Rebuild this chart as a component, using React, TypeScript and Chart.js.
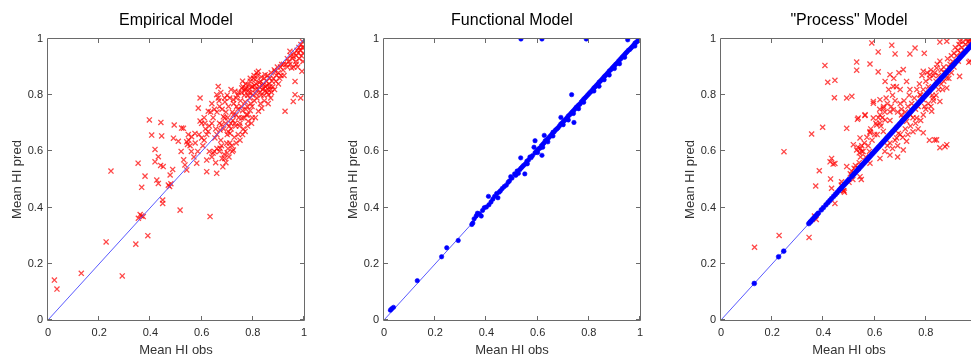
import React, { useEffect, useRef } from "react";
import { Chart, registerables } from "chart.js";

Chart.register(...registerables);

// Tick values shared by both axes of every panel
const axisTicks = [0, 0.2, 0.4, 0.6, 0.8, 1];

// 1:1 reference line
const identityLine: [number, number][] = [
  [0, 0],
  [1, 1],
];

// Empirical model: [observed, predicted] mean HI
const empiricalPoints: [number, number][] = [
  [0.025, 0.142], [0.035, 0.11], [0.13, 0.166], [0.227, 0.278], [0.246, 0.53], [0.29, 0.157],
  [0.343, 0.27], [0.39, 0.3], [0.353, 0.362], [0.36, 0.375], [0.366, 0.37], [0.372, 0.368],
  [0.352, 0.558], [0.366, 0.472], [0.379, 0.512], [0.396, 0.712], [0.405, 0.658], [0.441, 0.703],
  [0.444, 0.655], [0.418, 0.607], [0.431, 0.581], [0.418, 0.563], [0.45, 0.546], [0.44, 0.55],
  [0.425, 0.498], [0.431, 0.486], [0.448, 0.427], [0.448, 0.415], [0.47, 0.48], [0.477, 0.516],
  [0.475, 0.475], [0.48, 0.485], [0.487, 0.536], [0.493, 0.694], [0.49, 0.647], [0.516, 0.391],
  [0.633, 0.368],
  [0.509, 0.636], [0.522, 0.683], [0.529, 0.682], [0.535, 0.552], [0.542, 0.534], [0.542, 0.634],
  [0.548, 0.66], [0.545, 0.625], [0.55, 0.64], [0.555, 0.62], [0.561, 0.652], [0.574, 0.664],
  [0.581, 0.558], [0.585, 0.6], [0.587, 0.754], [0.594, 0.79], [0.594, 0.708], [0.6, 0.648],
  [0.605, 0.62], [0.613, 0.7], [0.62, 0.569], [0.62, 0.528], [0.626, 0.743], [0.626, 0.671],
  [0.63, 0.6], [0.635, 0.74], [0.64, 0.58], [0.645, 0.594], [0.652, 0.648], [0.655, 0.56],
  [0.659, 0.522], [0.659, 0.802], [0.665, 0.831], [0.668, 0.78], [0.672, 0.611], [0.672, 0.676],
  [0.678, 0.695], [0.68, 0.575], [0.683, 0.545], [0.685, 0.723], [0.688, 0.59], [0.691, 0.719],
  [0.691, 0.776], [0.695, 0.56], [0.698, 0.629], [0.7, 0.66], [0.703, 0.61], [0.704, 0.671],
  [0.707, 0.58], [0.711, 0.664], [0.714, 0.7], [0.718, 0.62], [0.72, 0.74], [0.724, 0.605],
  [0.724, 0.73], [0.724, 0.784], [0.728, 0.65], [0.73, 0.814], [0.733, 0.69], [0.737, 0.76],
  [0.74, 0.8], [0.743, 0.66], [0.745, 0.72], [0.75, 0.7], [0.752, 0.78], [0.757, 0.826],
  [0.757, 0.719], [0.76, 0.745], [0.763, 0.68], [0.767, 0.8], [0.77, 0.776], [0.77, 0.671],
  [0.772, 0.84], [0.775, 0.73], [0.778, 0.76], [0.782, 0.837], [0.782, 0.707], [0.785, 0.81],
  [0.788, 0.79], [0.79, 0.85], [0.792, 0.77], [0.795, 0.83], [0.798, 0.72], [0.8, 0.8],
  [0.803, 0.86], [0.806, 0.78], [0.809, 0.855], [0.81, 0.82], [0.813, 0.84], [0.816, 0.79],
  [0.818, 0.87], [0.822, 0.885], [0.822, 0.743], [0.825, 0.83], [0.828, 0.81], [0.83, 0.85],
  [0.833, 0.865], [0.835, 0.754], [0.838, 0.82], [0.84, 0.84], [0.843, 0.8], [0.845, 0.86],
  [0.848, 0.873], [0.85, 0.83], [0.853, 0.85], [0.856, 0.81], [0.858, 0.87], [0.861, 0.802],
  [0.863, 0.84], [0.866, 0.86], [0.87, 0.82], [0.872, 0.88], [0.875, 0.85], [0.878, 0.83],
  [0.88, 0.86], [0.884, 0.89], [0.887, 0.885], [0.89, 0.85], [0.893, 0.87], [0.896, 0.9],
  [0.9, 0.88], [0.905, 0.86], [0.908, 0.9], [0.913, 0.909], [0.918, 0.89], [0.922, 0.87],
  [0.926, 0.743], [0.93, 0.91], [0.935, 0.93], [0.94, 0.92], [0.945, 0.956], [0.948, 0.94],
  [0.952, 0.897], [0.955, 0.93], [0.958, 0.938], [0.958, 0.778], [0.962, 0.95], [0.965, 0.802],
  [0.965, 0.849], [0.968, 0.92], [0.97, 0.94], [0.973, 0.96], [0.975, 0.9], [0.977, 0.95],
  [0.98, 0.97], [0.982, 0.93], [0.985, 0.96], [0.987, 0.79], [0.988, 0.98], [0.99, 0.94],
  [0.993, 0.97], [0.995, 0.99], [0.997, 0.95], [1.0, 0.97], [0.996, 0.92], [0.992, 0.885],
  [0.755, 0.81], [0.762, 0.83], [0.768, 0.815], [0.775, 0.825], [0.78, 0.8], [0.787, 0.822],
  [0.793, 0.808], [0.8, 0.83], [0.807, 0.835], [0.812, 0.805], [0.82, 0.82], [0.826, 0.845],
  [0.832, 0.8], [0.837, 0.835], [0.842, 0.825], [0.848, 0.815], [0.855, 0.835], [0.86, 0.82],
  [0.867, 0.83], [0.873, 0.81],
  [0.686, 0.68], [0.694, 0.7], [0.702, 0.72], [0.708, 0.69], [0.715, 0.68], [0.722, 0.71],
  [0.73, 0.7], [0.735, 0.73], [0.742, 0.75], [0.748, 0.69], [0.755, 0.76], [0.765, 0.72],
  [0.773, 0.75], [0.78, 0.73], [0.79, 0.745], [0.797, 0.76],
  [0.65, 0.6], [0.66, 0.61], [0.67, 0.6], [0.678, 0.62], [0.69, 0.575], [0.7, 0.595],
  [0.71, 0.63], [0.72, 0.6],
  [0.6, 0.7], [0.61, 0.72], [0.615, 0.68], [0.64, 0.77], [0.645, 0.72], [0.65, 0.75],
  [0.66, 0.74], [0.665, 0.79], [0.67, 0.76], [0.675, 0.81], [0.68, 0.75], [0.69, 0.79],
  [0.7, 0.8], [0.71, 0.79], [0.715, 0.82],
  [0.52, 0.6], [0.53, 0.57], [0.56, 0.6], [0.57, 0.58], [0.575, 0.63], [0.59, 0.66],
  [0.61, 0.64], [0.62, 0.66], [0.63, 0.69], [0.64, 0.7], [0.655, 0.68], [0.66, 0.66],
  [0.67, 0.7], [0.675, 0.64], [0.695, 0.74], [0.705, 0.76], [0.725, 0.77], [0.735, 0.79],
  [0.745, 0.81], [0.76, 0.85], [0.77, 0.82], [0.79, 0.86], [0.805, 0.87], [0.815, 0.88],
  [0.83, 0.77], [0.845, 0.78], [0.86, 0.77], [0.87, 0.79], [0.885, 0.82], [0.9, 0.84],
  [0.91, 0.87], [0.92, 0.91], [0.935, 0.9], [0.945, 0.91], [0.96, 0.9], [0.97, 0.91],
  [0.78, 0.69], [0.795, 0.7], [0.76, 0.66], [0.735, 0.63], [0.75, 0.64], [0.81, 0.72],
];

// Functional model: [observed, predicted] mean HI
const functionalPoints: [number, number][] = [
  [0.025, 0.035], [0.03, 0.04], [0.037, 0.045], [0.13, 0.14], [0.225, 0.225], [0.245, 0.257],
  [0.29, 0.283], [0.343, 0.34], [0.347, 0.345], [0.352, 0.36], [0.36, 0.37], [0.365, 0.38],
  [0.372, 0.378], [0.38, 0.37], [0.385, 0.39], [0.392, 0.4], [0.4, 0.402], [0.408, 0.44],
  [0.41, 0.41], [0.418, 0.42], [0.425, 0.43], [0.432, 0.44], [0.44, 0.45], [0.445, 0.435],
  [0.45, 0.455], [0.455, 0.46], [0.462, 0.468], [0.47, 0.475], [0.478, 0.48], [0.485, 0.49],
  [0.49, 0.495], [0.495, 0.51], [0.5, 0.505],
  [0.51, 0.52], [0.515, 0.515], [0.52, 0.53], [0.525, 0.522], [0.53, 0.535], [0.534, 0.577],
  [0.535, 0.54], [0.54, 0.545], [0.545, 0.55], [0.55, 0.52], [0.552, 0.555], [0.558, 0.565],
  [0.565, 0.57], [0.57, 0.58], [0.575, 0.578], [0.58, 0.585], [0.586, 0.615], [0.59, 0.638],
  [0.59, 0.595], [0.595, 0.6], [0.6, 0.605], [0.605, 0.61], [0.61, 0.612], [0.617, 0.586],
  [0.615, 0.62], [0.62, 0.625], [0.626, 0.657], [0.625, 0.63], [0.63, 0.638], [0.635, 0.64],
  [0.64, 0.645], [0.645, 0.65], [0.65, 0.655], [0.655, 0.66], [0.66, 0.668], [0.665, 0.67],
  [0.67, 0.676], [0.675, 0.68], [0.68, 0.684], [0.685, 0.69], [0.691, 0.721], [0.69, 0.697],
  [0.695, 0.7], [0.7, 0.706], [0.705, 0.71], [0.71, 0.714], [0.715, 0.72], [0.72, 0.726],
  [0.725, 0.73], [0.73, 0.735], [0.733, 0.802], [0.735, 0.74], [0.742, 0.703], [0.74, 0.745],
  [0.745, 0.75], [0.75, 0.756], [0.755, 0.76], [0.76, 0.765], [0.765, 0.768], [0.77, 0.775],
  [0.775, 0.78], [0.78, 0.786], [0.785, 0.79], [0.79, 0.795], [0.795, 0.8], [0.8, 0.805],
  [0.805, 0.81], [0.81, 0.814], [0.815, 0.82], [0.82, 0.826], [0.825, 0.83], [0.83, 0.835],
  [0.835, 0.84], [0.84, 0.846], [0.845, 0.85], [0.85, 0.855], [0.855, 0.86], [0.86, 0.866],
  [0.865, 0.87], [0.87, 0.875], [0.875, 0.88], [0.88, 0.886], [0.885, 0.89], [0.89, 0.895],
  [0.895, 0.9], [0.9, 0.905], [0.905, 0.91], [0.91, 0.914], [0.915, 0.92], [0.92, 0.925],
  [0.925, 0.93], [0.93, 0.935], [0.935, 0.94], [0.94, 0.945], [0.945, 0.95], [0.95, 0.955],
  [0.952, 0.997], [0.955, 0.96], [0.96, 0.963], [0.965, 0.968], [0.97, 0.973], [0.975, 0.978],
  [0.98, 0.985], [0.985, 0.988], [0.99, 0.992], [0.995, 0.996], [1.0, 1.0],
  [0.535, 1.0], [0.617, 1.0], [0.79, 1.0],
  [0.62, 0.615], [0.66, 0.655], [0.7, 0.695], [0.74, 0.735], [0.78, 0.775], [0.82, 0.815],
  [0.86, 0.855], [0.9, 0.895], [0.94, 0.935], [0.98, 0.975], [0.72, 0.712], [0.76, 0.752],
  [0.84, 0.832], [0.88, 0.872], [0.92, 0.912], [0.56, 0.556], [0.6, 0.596], [0.64, 0.634],
];

// "Process" model, outcome A (red crosses): [observed, predicted]
const processScatterPoints: [number, number][] = [
  [0.131, 0.259], [0.227, 0.301], [0.246, 0.599], [0.344, 0.294], [0.354, 0.662], [0.365, 0.37],
  [0.37, 0.477], [0.372, 0.358], [0.384, 0.531], [0.397, 0.686], [0.406, 0.906], [0.417, 0.846],
  [0.445, 0.853], [0.443, 0.791], [0.426, 0.563], [0.432, 0.575], [0.438, 0.555], [0.445, 0.557],
  [0.428, 0.502], [0.432, 0.469], [0.445, 0.415], [0.471, 0.492], [0.478, 0.46], [0.482, 0.455],
  [0.491, 0.546], [0.491, 0.682], [0.491, 0.79], [0.511, 0.796], [0.53, 0.918], [0.53, 0.889],
  [0.517, 0.624], [0.53, 0.605], [0.535, 0.615], [0.54, 0.595], [0.545, 0.61], [0.55, 0.6],
  [0.533, 0.714], [0.536, 0.719], [0.536, 0.54], [0.543, 0.51], [0.548, 0.5], [0.543, 0.648],
  [0.562, 0.728], [0.563, 0.73], [0.582, 0.67], [0.582, 0.666], [0.582, 0.558], [0.589, 0.986],
  [0.582, 0.911], [0.595, 0.771], [0.595, 0.778], [0.595, 0.719], [0.608, 0.694], [0.614, 0.954],
  [0.614, 0.883], [0.621, 0.784], [0.621, 0.73], [0.621, 0.701], [0.621, 0.575], [0.634, 0.754],
  [0.634, 0.671], [0.641, 0.849], [0.641, 0.712], [0.66, 0.873], [0.66, 0.741], [0.66, 0.587],
  [0.667, 0.978], [0.673, 0.831], [0.673, 0.748], [0.68, 0.947], [0.686, 0.648], [0.693, 0.664],
  [0.69, 0.58], [0.705, 0.73], [0.712, 0.891], [0.712, 0.605], [0.725, 0.849], [0.725, 0.707],
  [0.725, 0.636], [0.738, 0.947], [0.738, 0.82], [0.758, 0.968], [0.764, 0.719], [0.777, 0.802],
  [0.79, 0.885], [0.79, 0.784], [0.79, 0.666], [0.794, 0.949], [0.816, 0.873], [0.814, 0.64],
  [0.823, 0.743], [0.829, 0.79], [0.835, 0.641], [0.842, 0.897], [0.842, 0.641], [0.855, 0.989],
  [0.855, 0.921], [0.855, 0.778], [0.855, 0.613], [0.875, 0.617], [0.882, 0.992], [0.882, 0.861],
  [0.882, 0.826], [0.882, 0.624], [0.927, 0.921], [0.932, 0.867], [0.934, 0.992], [0.968, 0.917],
  [0.973, 0.921],
  [0.7, 0.77], [0.705, 0.75], [0.71, 0.72], [0.715, 0.78], [0.72, 0.74], [0.73, 0.76],
  [0.735, 0.8], [0.74, 0.73], [0.745, 0.77], [0.75, 0.72], [0.755, 0.79], [0.76, 0.75],
  [0.765, 0.82], [0.77, 0.76], [0.775, 0.84], [0.78, 0.8], [0.785, 0.87], [0.79, 0.82],
  [0.795, 0.76], [0.8, 0.85], [0.805, 0.88], [0.81, 0.83], [0.815, 0.86], [0.82, 0.89],
  [0.825, 0.8], [0.83, 0.87], [0.835, 0.88], [0.84, 0.85], [0.845, 0.91], [0.85, 0.87],
  [0.86, 0.89], [0.865, 0.82], [0.87, 0.9], [0.875, 0.88], [0.885, 0.93], [0.89, 0.9],
  [0.895, 0.91], [0.9, 0.94], [0.905, 0.92], [0.91, 0.95], [0.915, 0.97], [0.92, 0.94],
  [0.925, 0.96], [0.93, 0.98], [0.935, 0.95], [0.94, 0.97], [0.945, 0.99], [0.95, 0.96],
  [0.955, 0.98], [0.96, 1.0], [0.965, 0.99], [0.97, 0.985], [0.975, 1.0], [0.98, 0.995],
  [0.985, 0.99], [0.99, 1.0], [0.995, 0.995], [0.97, 1.0], [0.98, 1.0],
  [0.64, 0.6], [0.65, 0.62], [0.66, 0.63], [0.67, 0.61], [0.68, 0.64], [0.69, 0.62],
  [0.7, 0.66], [0.71, 0.65], [0.72, 0.68], [0.73, 0.66], [0.74, 0.69], [0.75, 0.67],
  [0.76, 0.7], [0.77, 0.68], [0.78, 0.71], [0.79, 0.73], [0.8, 0.75], [0.81, 0.77],
  [0.82, 0.76], [0.83, 0.78], [0.84, 0.8], [0.85, 0.82], [0.86, 0.84], [0.87, 0.85],
  [0.88, 0.88], [0.89, 0.86], [0.9, 0.88], [0.91, 0.9],
  [0.55, 0.62], [0.555, 0.6], [0.56, 0.63], [0.565, 0.58], [0.57, 0.65], [0.575, 0.62],
  [0.58, 0.6], [0.585, 0.68], [0.59, 0.64], [0.6, 0.66], [0.605, 0.7], [0.61, 0.66],
  [0.615, 0.72], [0.62, 0.75], [0.625, 0.69], [0.63, 0.72], [0.635, 0.76], [0.64, 0.74],
  [0.645, 0.79], [0.65, 0.77], [0.655, 0.82], [0.66, 0.71], [0.665, 0.76], [0.67, 0.8],
  [0.675, 0.86], [0.68, 0.78], [0.685, 0.83], [0.69, 0.74], [0.695, 0.88], [0.7, 0.82],
  [0.47, 0.48], [0.475, 0.47], [0.48, 0.46], [0.5, 0.49], [0.505, 0.52], [0.51, 0.53],
  [0.52, 0.54], [0.515, 0.5], [0.525, 0.55], [0.54, 0.56], [0.545, 0.58],
];

// "Process" model, outcome B (blue dots, on the 1:1 line): [observed, predicted]
const processLinePoints: [number, number][] = [
  [0.13, 0.13], [0.225, 0.225], [0.245, 0.245], [0.343, 0.343], [0.348, 0.348], [0.352, 0.352],
  [0.357, 0.357], [0.362, 0.362], [0.366, 0.366], [0.37, 0.37], [0.375, 0.375], [0.38, 0.38],
  [0.392, 0.392], [0.4, 0.4], [0.41, 0.41], [0.418, 0.418], [0.425, 0.425], [0.432, 0.432],
  [0.44, 0.44], [0.447, 0.447], [0.453, 0.453], [0.46, 0.46], [0.465, 0.465], [0.47, 0.47],
  [0.475, 0.475], [0.48, 0.48], [0.485, 0.485], [0.49, 0.49], [0.495, 0.495], [0.5, 0.5],
  [0.51, 0.51], [0.515, 0.515], [0.52, 0.52], [0.525, 0.525], [0.53, 0.53], [0.535, 0.535],
  [0.54, 0.54], [0.545, 0.545], [0.55, 0.55], [0.555, 0.555], [0.56, 0.56], [0.565, 0.565],
  [0.57, 0.57], [0.575, 0.575], [0.58, 0.58], [0.585, 0.585], [0.59, 0.59], [0.595, 0.595],
  [0.6, 0.6], [0.605, 0.605], [0.61, 0.61], [0.615, 0.615], [0.62, 0.62], [0.625, 0.625],
  [0.63, 0.63], [0.635, 0.635], [0.64, 0.64], [0.645, 0.645], [0.65, 0.65], [0.655, 0.655],
  [0.66, 0.66], [0.665, 0.665], [0.67, 0.67], [0.675, 0.675], [0.68, 0.68], [0.685, 0.685],
  [0.69, 0.69], [0.695, 0.695], [0.7, 0.7], [0.705, 0.705], [0.71, 0.71], [0.715, 0.715],
  [0.72, 0.72], [0.725, 0.725], [0.73, 0.73], [0.735, 0.735], [0.74, 0.74], [0.745, 0.745],
  [0.75, 0.75], [0.755, 0.755], [0.76, 0.76], [0.765, 0.765], [0.77, 0.77], [0.775, 0.775],
  [0.78, 0.78], [0.785, 0.785], [0.79, 0.79], [0.795, 0.795], [0.8, 0.8], [0.805, 0.805],
  [0.81, 0.81], [0.815, 0.815], [0.82, 0.82], [0.825, 0.825], [0.83, 0.83], [0.835, 0.835],
  [0.84, 0.84], [0.845, 0.845], [0.85, 0.85], [0.855, 0.855], [0.86, 0.86], [0.865, 0.865],
  [0.87, 0.87], [0.875, 0.875], [0.88, 0.88], [0.885, 0.885], [0.89, 0.89], [0.895, 0.895],
  [0.9, 0.9], [0.905, 0.905], [0.91, 0.91], [0.915, 0.915], [0.92, 0.92], [0.925, 0.925],
  [0.93, 0.93], [0.935, 0.935], [0.94, 0.94], [0.945, 0.945], [0.95, 0.95], [0.955, 0.955],
  [0.96, 0.96], [0.965, 0.965], [0.97, 0.97], [0.975, 0.975], [0.98, 0.98], [0.985, 0.985],
  [0.99, 0.99], [0.995, 0.995], [1.0, 1.0],
];

const FONT = "'Liberation Sans', Arial, Helvetica, sans-serif";
const RED = "rgba(255, 0, 0, 0.72)";
const BLUE = "#0000ff";
const LINE_BLUE = "rgba(80, 80, 255, 0.95)";

const toXY = (pairs: [number, number][]) => pairs.map(([x, y]) => ({ x, y }));

// Boxed axes with inward tick marks on all four sides
const boxFrame = {
  id: "boxFrame",
  afterDatasetsDraw(chart: any) {
    const { ctx, chartArea, scales } = chart;
    const { left, right, top, bottom } = chartArea;
    const xs = scales.x;
    const ys = scales.y;
    const len = 4;
    ctx.save();
    ctx.strokeStyle = "#6a6a6a";
    ctx.lineWidth = 1;
    ctx.beginPath();
    ctx.rect(Math.round(left) - 0.5, Math.round(top) - 0.5, Math.round(right - left) + 1, Math.round(bottom - top) + 1);
    for (const v of axisTicks) {
      const px = Math.round(xs.getPixelForValue(v)) - 0.5;
      ctx.moveTo(px, bottom);
      ctx.lineTo(px, bottom - len);
      ctx.moveTo(px, top);
      ctx.lineTo(px, top + len);
      const py = Math.round(ys.getPixelForValue(v)) - 0.5;
      ctx.moveTo(left, py);
      ctx.lineTo(left + len, py);
      ctx.moveTo(right, py);
      ctx.lineTo(right - len, py);
    }
    ctx.stroke();
    ctx.restore();
  },
};

const Y_AXIS_WIDTH = 48;
const X_AXIS_HEIGHT = 38;
const CANVAS_W = 352;
const CANVAS_H = 358;

function makeScale(axis: "x" | "y") {
  const isX = axis === "x";
  return {
    type: "linear" as const,
    min: 0,
    max: 1,
    ticks: {
      stepSize: 0.2,
      padding: isX ? 6 : 5,
      color: "#2a2a2a",
      font: { family: FONT, size: 11 },
      callback: (v: number) => String(Number(Number(v).toFixed(1))),
    },
    grid: { display: false, drawTicks: false },
    border: { display: false },
    title: {
      display: true,
      text: isX ? "Mean HI obs" : "Mean HI pred",
      color: "#333333",
      font: { family: FONT, size: 13 },
      padding: isX ? { top: 0, bottom: 0 } : { top: 10, bottom: 0 },
    },
    afterFit(scale: any) {
      if (isX) scale.height = X_AXIS_HEIGHT;
      else scale.width = Y_AXIS_WIDTH;
    },
  };
}

type PanelProps = { left: number; title: string; datasets: any[] };

function ScatterPanel({ left, title, datasets }: PanelProps) {
  const canvasRef = useRef<HTMLCanvasElement>(null);

  useEffect(() => {
    const chart = new Chart(canvasRef.current!, {
      type: "scatter",
      data: { datasets },
      options: {
        animation: false,
        responsive: false,
        devicePixelRatio: 1,
        layout: { padding: { left: 0, right: CANVAS_W - Y_AXIS_WIDTH - 256, top: 0, bottom: 0 } },
        plugins: {
          legend: { display: false },
          tooltip: { enabled: false },
          title: {
            display: true,
            fullSize: false,
            text: title,
            color: "#000",
            font: { family: FONT, size: 16, weight: "normal" },
            padding: { top: 11, bottom: 8.8 },
          },
        },
        scales: { x: makeScale("x"), y: makeScale("y") },
      },
      plugins: [boxFrame],
    });
    return () => chart.destroy();
  }, []);

  return (
    <canvas
      ref={canvasRef}
      width={CANVAS_W}
      height={CANVAS_H}
      style={{ position: "absolute", left, top: 0, width: CANVAS_W, height: CANVAS_H }}
    />
  );
}

const refLine = (order: number) => ({
  type: "line" as const,
  data: toXY(identityLine),
  borderColor: LINE_BLUE,
  borderWidth: 1,
  pointRadius: 0,
  showLine: true,
  fill: false,
  order,
});

const crosses = (pairs: [number, number][], order: number) => ({
  data: toXY(pairs),
  pointStyle: "crossRot",
  pointRadius: 3.6,
  borderWidth: 1.3,
  borderColor: RED,
  backgroundColor: RED,
  order,
});

const dots = (pairs: [number, number][], radius: number, order: number) => ({
  data: toXY(pairs),
  pointStyle: "circle",
  pointRadius: radius,
  borderWidth: 0.6,
  borderColor: BLUE,
  backgroundColor: BLUE,
  order,
});

export default function App() {
  return (
    <div
      style={{
        position: "fixed",
        left: 0,
        top: 0,
        width: 971,
        height: 358,
        overflow: "hidden",
        background: "#ffffff",
      }}
    >
      <ScatterPanel left={0} title="Empirical Model" datasets={[refLine(0), crosses(empiricalPoints, 1)]} />
      <ScatterPanel left={336} title="Functional Model" datasets={[dots(functionalPoints, 2.2, 0), refLine(1)]} />
      <ScatterPanel
        left={673}
        title={'"Process" Model'}
        datasets={[dots(processLinePoints, 2.4, 0), refLine(1), crosses(processScatterPoints, 2)]}
      />
    </div>
  );
}
